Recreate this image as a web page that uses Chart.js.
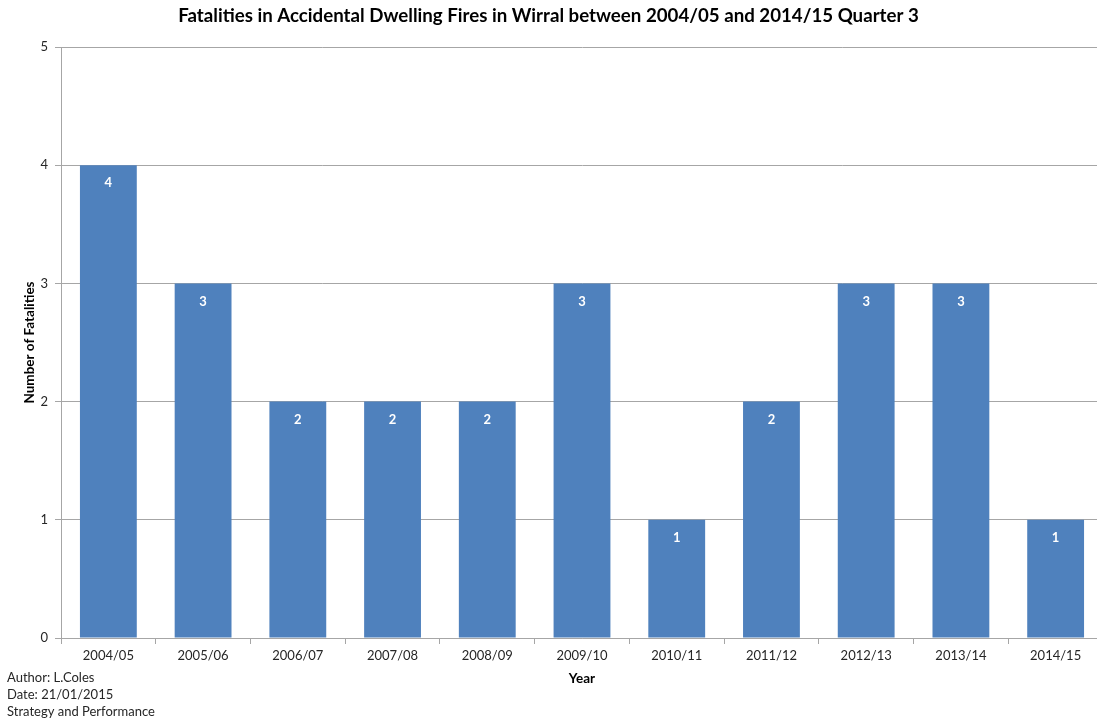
<!DOCTYPE html>
<html>
<head>
<meta charset="utf-8">
<script src="https://cdn.jsdelivr.net/npm/chart.js@4/dist/chart.umd.min.js"></script>
<style>
  html, body { margin: 0; padding: 0; background: #ffffff; }
  #wrap { width: 1097px; height: 721px; position: relative; overflow: hidden; }
</style>
</head>
<body>
<div id="wrap"><canvas id="c" width="1103" height="721"></canvas></div>
<script>
// Financial years and recorded fatalities
const years = ['2004/05', '2005/06', '2006/07', '2007/08', '2008/09', '2009/10',
               '2010/11', '2011/12', '2012/13', '2013/14', '2014/15'];
const fatalities = [4, 3, 2, 2, 2, 3, 1, 2, 3, 3, 1];
const yTicks = [0, 1, 2, 3, 4, 5];
const chartTitle = 'Fatalities in Accidental Dwelling Fires in Wirral between 2004/05 and 2014/15 Quarter 3';
const footerLines = ['Author: L.Coles', 'Date: 21/01/2015', 'Strategy and Performance'];

const FONT = 'Lato, "Open Sans", "Liberation Sans", sans-serif';
const VISIBLE_WIDTH = 1097; // the plot area runs a few pixels past the visible page edge

// Value labels drawn in white just inside the top of each bar
const barValueLabels = {
  id: 'barValueLabels',
  afterDatasetsDraw(chart) {
    const ctx = chart.ctx;
    const meta = chart.getDatasetMeta(0);
    ctx.save();
    ctx.fillStyle = '#ffffff';
    ctx.font = 'bold 13px ' + FONT;
    ctx.textAlign = 'center';
    ctx.textBaseline = 'middle';
    meta.data.forEach((bar, i) => {
      ctx.fillText(String(fatalities[i]), bar.x, bar.y + 18);
    });
    ctx.restore();
  }
};

// Heading centred on the visible page, plus the author / date note in the lower-left corner
const headingAndNote = {
  id: 'headingAndNote',
  afterDraw(chart) {
    const ctx = chart.ctx;
    ctx.save();
    ctx.fillStyle = '#000000';
    ctx.font = 'bold 18.7px ' + FONT;
    ctx.textAlign = 'center';
    ctx.textBaseline = 'middle';
    ctx.fillText(chartTitle, VISIBLE_WIDTH / 2, 16);

    ctx.fillStyle = '#262626';
    ctx.font = '13px ' + FONT;
    ctx.textAlign = 'left';
    footerLines.forEach((line, i) => {
      ctx.fillText(line, 7, 678 + i * 17);
    });
    ctx.restore();
  }
};

new Chart(document.getElementById('c'), {
  type: 'bar',
  data: {
    labels: years,
    datasets: [{
      data: fatalities,
      backgroundColor: '#4F81BD',
      borderWidth: 0,
      barPercentage: 0.6,
      categoryPercentage: 1.0
    }]
  },
  options: {
    responsive: false,
    animation: false,
    events: [],
    layout: { padding: { left: 0, right: 0, top: 47, bottom: 0 } },
    plugins: {
      legend: { display: false },
      tooltip: { enabled: false },
      title: { display: false }
    },
    scales: {
      x: {
        offset: true,
        grid: {
          offset: true,
          drawOnChartArea: false,
          drawTicks: true,
          tickLength: 6,
          color: '#a6a6a6'
        },
        border: { color: '#a6a6a6', width: 1 },
        ticks: {
          color: '#262626',
          font: { family: FONT, size: 13 },
          padding: 4,
          maxRotation: 0
        },
        title: {
          display: true,
          text: 'Year',
          color: '#000000',
          font: { family: FONT, size: 13.5, weight: 'bold' },
          padding: { top: 4, bottom: 34 }
        },
        afterFit(scale) { scale.height = 83; }
      },
      y: {
        min: 0,
        max: 5,
        afterBuildTicks(scale) { scale.ticks = yTicks.map(v => ({ value: v })); },
        grid: {
          color: '#a6a6a6',
          drawTicks: true,
          tickLength: 6
        },
        border: { color: '#a6a6a6', width: 1 },
        ticks: {
          color: '#262626',
          font: { family: FONT, size: 13 },
          padding: 7
        },
        title: {
          display: true,
          text: 'Number of Fatalities',
          color: '#000000',
          font: { family: FONT, size: 13.5, weight: 'bold' },
          padding: { top: 22, bottom: 0 }
        },
        afterFit(scale) { scale.width = 61; }
      }
    }
  },
  plugins: [barValueLabels, headingAndNote]
});
</script>
</body>
</html>
